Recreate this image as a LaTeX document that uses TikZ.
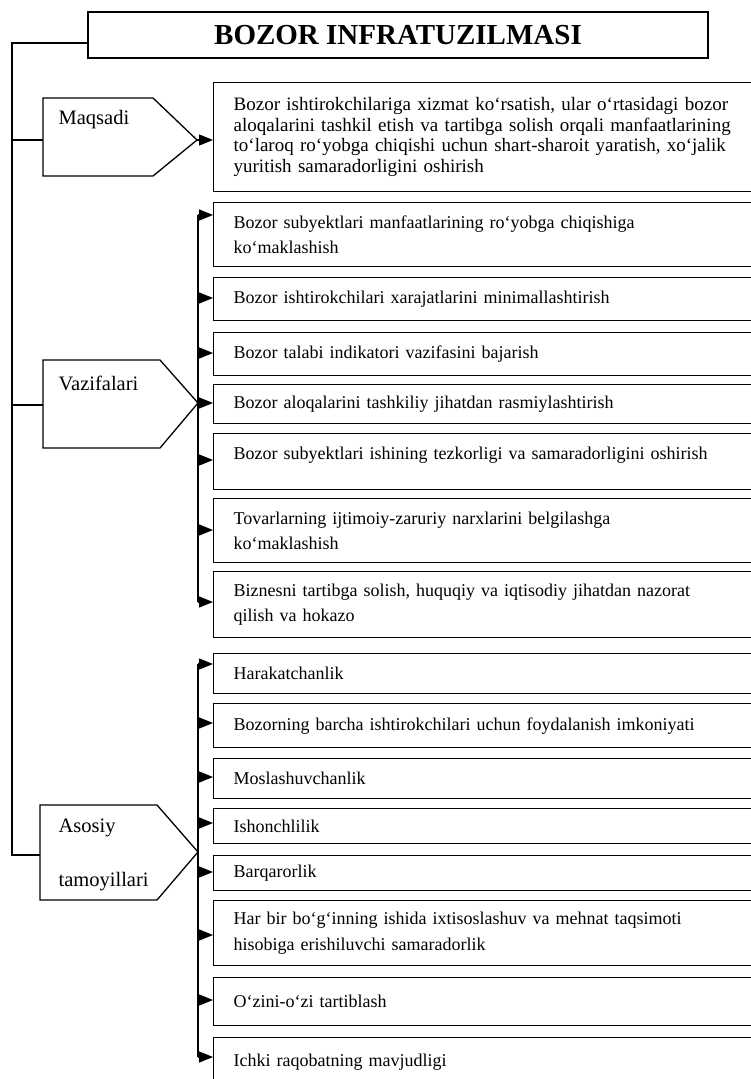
\documentclass[tikz,border=0pt]{standalone}
\usepackage{fontspec}
\setmainfont{Liberation Serif}
\usetikzlibrary{arrows.meta,calc}

\begin{document}
\begin{tikzpicture}[x=1pt,y=-1pt,>={Triangle[length=14pt,width=11pt]},line width=1.3pt]
\tikzstyle{box}=[draw,anchor=north west,minimum width=560pt,text width=520pt,inner xsep=19pt,inner ysep=0pt,align=left,font=\fontsize{18}{25.5}\selectfont]
\tikzstyle{lbl}=[anchor=west,inner sep=0pt,font=\fontsize{20.5}{24}\selectfont]
\useasboundingbox (0,0) rectangle (751,1079);
\clip (0,0) rectangle (751,1079);
% title
\node[draw,minimum width=620pt,minimum height=46pt,font=\fontsize{29}{32}\selectfont\bfseries] (title) at (398,35) {BOZOR INFRATUZILMASI};
\coordinate (top) at (12,43);
% left pentagons
\draw (43,98) -- (153,98) -- (197,140) -- (153,176) -- (43,176) -- cycle;
\draw (43,360) -- (160,360) -- (198,403) -- (160,448) -- (43,448) -- cycle;
\draw (40,805) -- (157,805) -- (198,852) -- (157,900) -- (40,900) -- cycle;
\coordinate (min) at (43,140); \coordinate (mtip) at (197,140);
\coordinate (vin) at (43,405); \coordinate (ain) at (40,855);
\node[lbl] (maq) at (58,120) {Maqsadi};
\node[lbl] (vaz) at (58,383) {Vazifalari};
\node[lbl] (aso) at (58,828) {Asosiy}; \node[lbl] (tam) at (58,882) {tamoyillari};
\draw (title.west |- top) -- (top) -- (top |- ain) -- (ain);
\draw (top |- min) -- (min); \draw (top |- vin) -- (vin);
% maqsadi
\node[box,minimum height=109pt,font=\fontsize{19}{20.5}\selectfont] (mq) at (213,82) {Bozor ishtirokchilariga xizmat ko‘rsatish, ular o‘rtasidagi bozor\\ aloqalarini tashkil etish va tartibga solish orqali manfaatlarining\\ to‘laroq ro‘yobga chiqishi uchun shart-sharoit yaratish, xo‘jalik\\ yuritish samaradorligini oshirish};
\draw[->] (mtip) -- (mtip -| mq.west);
% vazifalari
\node[box,minimum height=64pt] (v1) at (213,202) {Bozor subyektlari manfaatlarining ro‘yobga chiqishiga\\ ko‘maklashish};
\node[box,minimum height=43pt] (v2) at (213,277) {Bozor ishtirokchilari xarajatlarini minimallashtirish};
\node[box,minimum height=43pt] (v3) at (213,332) {Bozor talabi indikatori vazifasini bajarish};
\node[box,minimum height=39pt] (v4) at (213,384) {Bozor aloqalarini tashkiliy jihatdan rasmiylashtirish};
\node[box,minimum height=56pt,text depth=16pt] (v5) at (213,433) {Bozor subyektlari ishining tezkorligi va samaradorligini oshirish};
\node[box,minimum height=64pt] (v6) at (213,498) {Tovarlarning ijtimoiy-zaruriy narxlarini belgilashga\\ ko‘maklashish};
\node[box,minimum height=66pt] (v7) at (213,571) {Biznesni tartibga solish, huquqiy va iqtisodiy jihatdan nazorat\\ qilish va hokazo};
\coordinate (va1) at (198,215); \coordinate (va2) at (198,298); \coordinate (va3) at (198,353);
\coordinate (va4) at (198,403); \coordinate (va5) at (198,460); \coordinate (va6) at (198,530);
\coordinate (va7) at (198,602);
\draw (va1) -- (va7);
\draw[->] (va1) -- (va1 -| v1.west); \draw[->] (va2) -- (va2 -| v2.west);
\draw[->] (va3) -- (va3 -| v3.west); \draw[->] (va4) -- (va4 -| v4.west);
\draw[->] (va5) -- (va5 -| v5.west); \draw[->] (va6) -- (va6 -| v6.west);
\draw[->] (va7) -- (va7 -| v7.west);
% asosiy tamoyillari
\node[box,minimum height=40pt] (t1) at (213,653) {Harakatchanlik};
\node[box,minimum height=44pt] (t2) at (213,703) {Bozorning barcha ishtirokchilari uchun foydalanish imkoniyati};
\node[box,minimum height=40pt] (t3) at (213,758) {Moslashuvchanlik};
\node[box,minimum height=35pt] (t4) at (213,808) {Ishonchlilik};
\node[box,minimum height=35pt] (t5) at (213,855) {Barqarorlik};
\node[box,minimum height=65pt] (t6) at (213,900) {Har bir bo‘g‘inning ishida ixtisoslashuv va mehnat taqsimoti\\ hisobiga erishiluvchi samaradorlik};
\node[box,minimum height=48pt] (t7) at (213,977) {O‘zini-o‘zi tartiblash};
\node[box,minimum height=50pt] (t8) at (213,1037) {Ichki raqobatning mavjudligi};
\coordinate (ta1) at (198,664); \coordinate (ta2) at (198,723); \coordinate (ta3) at (198,777);
\coordinate (ta4) at (198,823); \coordinate (ta5) at (198,872); \coordinate (ta6) at (198,935);
\coordinate (ta7) at (198,1000); \coordinate (ta8) at (198,1057);
\draw (ta1) -- (ta8);
\draw[->] (ta1) -- (ta1 -| t1.west); \draw[->] (ta2) -- (ta2 -| t2.west);
\draw[->] (ta3) -- (ta3 -| t3.west); \draw[->] (ta4) -- (ta4 -| t4.west);
\draw[->] (ta5) -- (ta5 -| t5.west); \draw[->] (ta6) -- (ta6 -| t6.west);
\draw[->] (ta7) -- (ta7 -| t7.west); \draw[->] (ta8) -- (ta8 -| t8.west);
\end{tikzpicture}
\end{document}
